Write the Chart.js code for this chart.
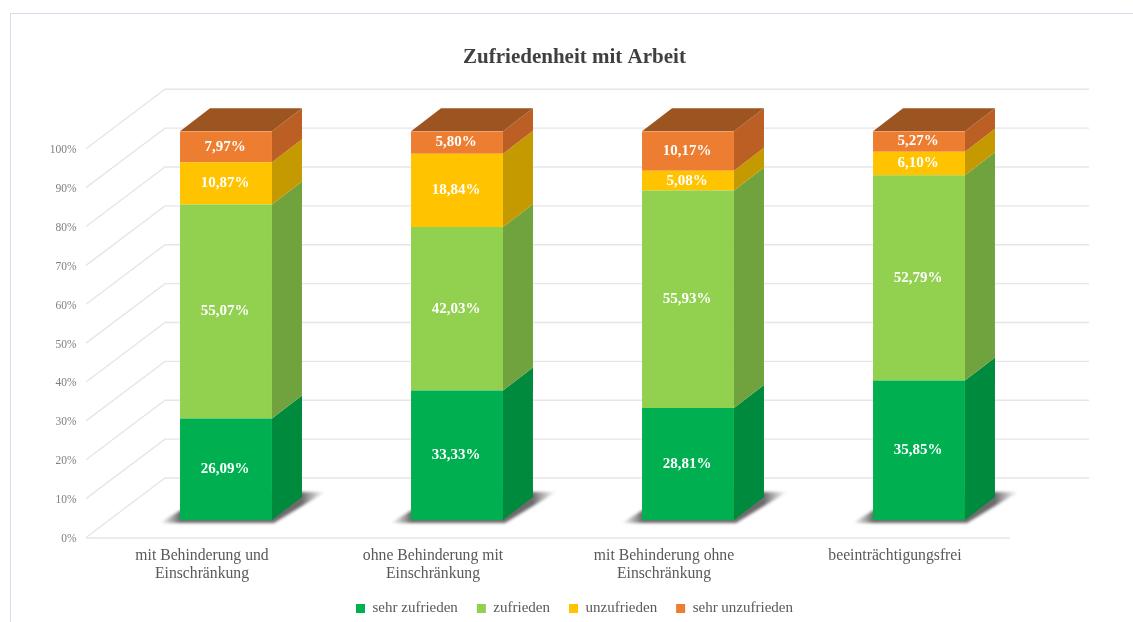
<!DOCTYPE html>
<html><head><meta charset="utf-8">
<script src="https://cdn.jsdelivr.net/npm/chart.js@4"></script>
<style>
html,body{margin:0;padding:0;background:#fff;overflow:hidden}
#frame{position:absolute;left:10px;top:13px;width:1200px;height:700px;border-left:1px solid #d3deec;border-top:1px solid #d3deec}
#wrap{position:absolute;left:0;top:0;width:1133px;height:622px}
canvas{filter:blur(0.5px)}
</style></head><body>
<div id="frame"></div>
<div id="wrap"><canvas id="c" width="1133" height="622"></canvas></div>
<script>
const categories = [["mit Behinderung und","Einschränkung"],["ohne Behinderung mit","Einschränkung"],["mit Behinderung ohne","Einschränkung"],"beeinträchtigungsfrei"];
const sehrZufrieden = [26.09,33.33,28.81,35.85];
const zufrieden = [55.07,42.03,55.93,52.79];
const unzufrieden = [10.87,18.84,5.08,6.10];
const sehrUnzufrieden = [7.97,5.80,10.17,5.27];
const seriesNames = ["sehr zufrieden","zufrieden","unzufrieden","sehr unzufrieden"];
const frontColors = ["#00b050","#92d050","#ffc300","#ed7d31"];
const sideColors = ["#008a3e","#70a23d","#c49a00","#bc5f24"];
const topColor = "#9c5420";
const titleText = "Zufriedenheit mit Arbeit";
const serif = "'Liberation Serif'";
const DX=30, DY=-23;

const scene = {
  id:'scene',
  beforeDatasetsDraw(chart){
    const {ctx,chartArea:a,scales:{y}}=chart;
    ctx.save();
    ctx.strokeStyle='#e6e6e6';ctx.lineWidth=1.4;
    const backX=a.left+54.5, frontX=a.left-24.5, backW=a.right-a.left;
    y.ticks.forEach(t=>{
      const p=y.getPixelForValue(t.value);
      ctx.beginPath();
      ctx.moveTo(frontX,p+17.5);ctx.lineTo(backX,p-42);ctx.lineTo(backX+backW,p-42);
      ctx.stroke();
    });
    const p0=y.getPixelForValue(0);
    ctx.beginPath();ctx.moveTo(frontX,p0+18);ctx.lineTo(frontX+backW,p0+18);ctx.stroke();
    // floor shadows
    const m=chart.getDatasetMeta(0);
    m.data.forEach(b=>{
      const l=b.x-b.width/2,r=b.x+b.width/2,base=b.base;
      const g=ctx.createLinearGradient(l-22,0,r+54,0);
      const w=r+54-(l-22);
      g.addColorStop(0,'rgba(120,120,120,0)');
      g.addColorStop(22/w,'rgba(70,70,70,0.8)');
      g.addColorStop((22+b.width+30)/w,'rgba(70,70,70,0.8)');
      g.addColorStop(1,'rgba(120,120,120,0)');
      ctx.save();ctx.filter='blur(1.6px)';ctx.fillStyle=g;
      ctx.beginPath();
      ctx.moveTo(l-20,base+3);ctx.lineTo(r+2,base+3);ctx.lineTo(r+53,base-28);ctx.lineTo(l+30,base-28);
      ctx.closePath();ctx.fill();ctx.restore();
    });
    // side and top faces
    chart.data.datasets.forEach((d,i)=>{
      chart.getDatasetMeta(i).data.forEach(b=>{
        const r=b.x+b.width/2;
        ctx.fillStyle=sideColors[i];
        ctx.beginPath();
        ctx.moveTo(r,b.base);ctx.lineTo(r+DX,b.base+DY);ctx.lineTo(r+DX,b.y+DY);ctx.lineTo(r,b.y);
        ctx.closePath();ctx.fill();
      });
    });
    chart.getDatasetMeta(chart.data.datasets.length-1).data.forEach(b=>{
      const l=b.x-b.width/2,r=b.x+b.width/2;
      ctx.fillStyle=topColor;
      ctx.beginPath();
      ctx.moveTo(l,b.y);ctx.lineTo(r,b.y);ctx.lineTo(r+DX,b.y+DY);ctx.lineTo(l+DX,b.y+DY);
      ctx.closePath();ctx.fill();
    });
    ctx.restore();
  },
  afterDatasetsDraw(chart){
    const {ctx}=chart;
    ctx.save();
    ctx.fillStyle='#fff';ctx.textAlign='center';ctx.textBaseline='middle';
    ctx.font="bold 15px "+serif;
    chart.data.datasets.forEach((d,i)=>{
      chart.getDatasetMeta(i).data.forEach((b,j)=>{
        ctx.fillText(d.data[j].toFixed(2).replace('.',',')+'%',b.x-1,(b.y+b.base)/2);
      });
    });
    ctx.restore();
  }
};

const values=[sehrZufrieden,zufrieden,unzufrieden,sehrUnzufrieden];
new Chart(document.getElementById('c'),{
  type:'bar',
  data:{labels:categories,datasets:seriesNames.map((n,i)=>({label:n,data:values[i],backgroundColor:frontColors[i],borderWidth:0,barPercentage:1,categoryPercentage:0.398}))},
  plugins:[scene],
  options:{
    responsive:false,animation:false,
    layout:{padding:{left:16,right:0,top:0,bottom:0}},
    plugins:{
      tooltip:{enabled:false},
      title:{display:true,text:titleText,color:'#404040',font:{family:serif,size:21,weight:'bold'},padding:{top:45,bottom:61}},
      legend:{position:'bottom',maxHeight:40,labels:{boxWidth:9,boxHeight:9,color:'#595959',padding:19,font:{family:serif,size:15}}}
    },
    scales:{
      x:{stacked:true,grid:{display:false},border:{display:false},
        afterFit:s=>{s.height=62},
        ticks:{color:'#595959',font:{family:serif,size:15.7},labelOffset:-24,padding:18,maxRotation:0,autoSkip:false}},
      y:{stacked:true,min:0,max:100,grid:{display:false},border:{display:false},
        afterFit:s=>{s.width=94.5},
        ticks:{stepSize:10,color:'#7f7f7f',font:{family:serif,size:11.5},labelOffset:19,padding:26,callback:v=>v+'%'}},
      yRight:{position:'right',min:0,max:100,grid:{display:false},border:{display:false},
        afterFit:s=>{s.width=98.5},
        ticks:{display:false}}
    }
  }
});
</script>
</body></html>
